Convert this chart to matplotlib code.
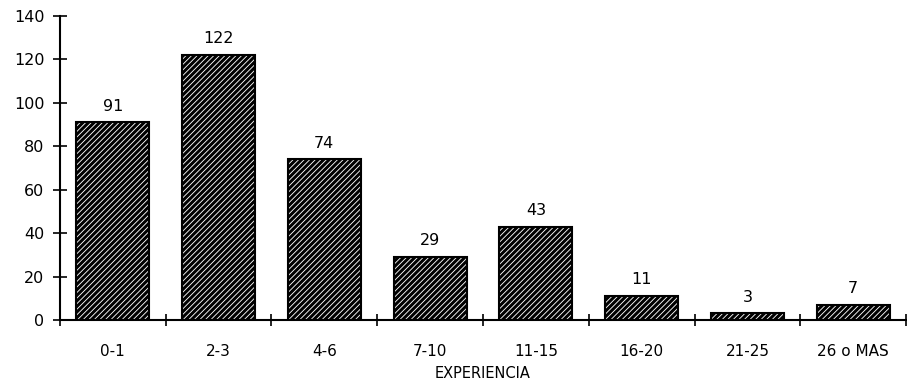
import numpy as np
import matplotlib.pyplot as plt

# Years of experience groups and counts
categorias = ["0-1", "2-3", "4-6", "7-10", "11-15", "16-20", "21-25", "26 o MAS"]
valores = [91, 122, 74, 29, 43, 11, 3, 7]

plt.rcParams["hatch.linewidth"] = 2.2
plt.rcParams["font.family"] = "DejaVu Sans"

fig = plt.figure(figsize=(9.07, 3.86), dpi=100)
ax = fig.add_axes([0.066, 0.171, 0.933, 0.788])

x = np.arange(len(categorias))
bars = ax.bar(x, valores, width=0.69, color="white", edgecolor="black",
              hatch="//////", linewidth=1.5)

# value labels over the bars
for xi, v in zip(x, valores):
    ax.text(xi, v + 4, str(v), ha="center", va="bottom", fontsize=11.5)

ax.set_xlim(-0.5, len(categorias) - 0.5)
ax.set_ylim(0, 140)
ax.set_yticks(range(0, 141, 20))

# boundary ticks between groups, labels at the group centres
ax.set_xticks(np.arange(-0.5, len(categorias), 1.0))
ax.set_xticklabels([])
ax.set_xticks(x, minor=True)
ax.set_xticklabels(categorias, minor=True, fontsize=11)
ax.tick_params(axis="x", which="minor", length=0, pad=17)
ax.tick_params(axis="x", which="major", direction="inout", length=9, width=1.2)
ax.tick_params(axis="y", direction="inout", length=10, width=1.2, labelsize=11.5, pad=6)

ax.set_xlabel("EXPERIENCIA", fontsize=10.5, labelpad=5)

for s in ["top", "right"]:
    ax.spines[s].set_visible(False)
ax.spines["left"].set_linewidth(1.5)
ax.spines["bottom"].set_linewidth(1.5)
ax.spines["left"].set_bounds(0, 140)

fig.savefig("out.png", dpi=100)
